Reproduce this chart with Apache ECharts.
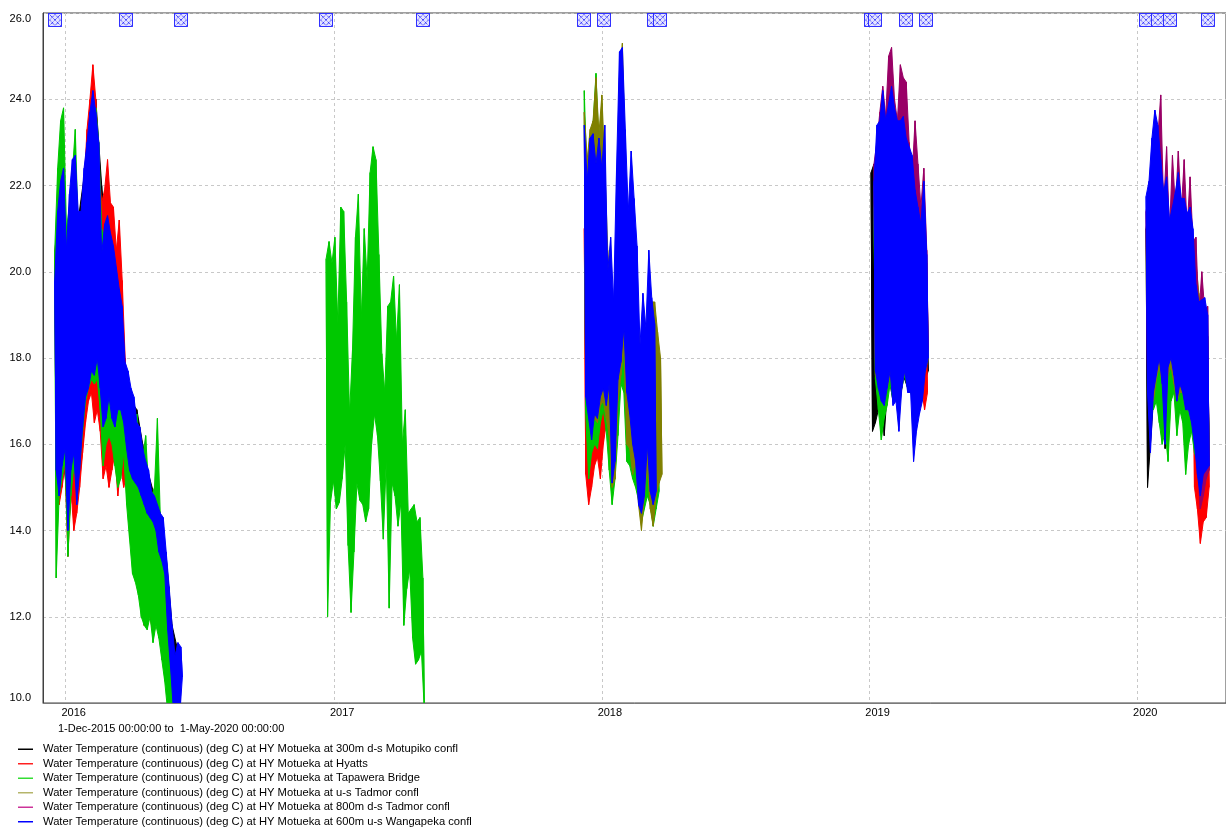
<!DOCTYPE html>
<html><head><meta charset="utf-8">
<script src="https://cdn.jsdelivr.net/npm/echarts@6/dist/echarts.min.js"></script>
<style>html,body{margin:0;padding:0;background:#fff}#c{width:1226px;height:830px}</style>
</head><body><div id="c"></div>
<script>
// ---------- labels ----------
const seriesNames = [
  'Water Temperature (continuous) (deg C) at HY Motueka at 300m d-s Motupiko confl',
  'Water Temperature (continuous) (deg C) at HY Motueka at Hyatts',
  'Water Temperature (continuous) (deg C) at HY Motueka at Tapawera Bridge',
  'Water Temperature (continuous) (deg C) at HY Motueka at u-s Tadmor confl',
  'Water Temperature (continuous) (deg C) at HY Motueka at 800m d-s Tadmor confl',
  'Water Temperature (continuous) (deg C) at HY Motueka at 600m u-s Wangapeka confl'
];
const seriesColors = ['#000000', '#ff0000', '#00c800', '#808000', '#990066', '#0000ff'];
const legendColors = ['#000000', '#ff2020', '#33dd33', '#b5b56a', '#cc3399', '#0000ff'];
const periodText = '1-Dec-2015 00:00:00 to  1-May-2020 00:00:00';
const xStart = '2015-12-01', xEnd = '2020-05-01';
const yMin = 10, yMax = 26, yStep = 2;

// ---------- data: daily-cycle highs / lows, one pair per sampling step ----------
// 300m d-s Motupiko confl (black)
const black2016Hi = [19.5,21.8,20.5,22.3,21.2,22.2,23.5,24.0,22.0,20.5,20.6,19.8,17.5,17.0,16.8,16.0,15.3,14.8,14.4,13.4,11.8,11.2];
const black2016Lo = [15.6,15.6,14.3,15.9,15.5,17.2,17.8,18.0,16.6,16.8,16.9,16.7,16.0,15.3,15.0,14.7,14.4,14.1,13.5,12.0,10.0,9.8];
const black2019Hi = [22.3,22.5,22.0,21.5,21.8,22.0,22.2,21.8,21.5,21.6,21.4,21.0,20.8,20.5,20.3,20.0,19.8,19.8,19.5,19.2];
const black2019Lo = [16.3,16.5,16.8,17.0,16.2,17.2,17.4,17.0,17.2,17.4,17.6,17.5,17.3,17.5,17.6,17.8,17.5,17.2,17.5,17.7];
const black2020Hi = [21.0,21.5,22.0,22.5,22.4,21.8,21.0,21.5,20.8,21.0,21.2,21.4,21.0,21.0,20.8,20.8,20.3,19.2,18.8,18.8,18.9,18.5];
const black2020Lo = [15.0,16.0,17.0,17.4,17.8,17.5,15.9,17.6,17.9,17.6,17.2,17.3,17.2,17.0,17.0,16.7,16.3,15.6,15.1,15.5,15.6,15.7];
// Hyatts (red)
const red2016Hi = [20.5,21.0,21.5,21.8,20.0,21.3,22.0,22.2,21.0,21.0,22.0,23.3,24.0,24.8,24.0,22.5,21.6,21.9,22.6,21.6,21.5,20.5,21.2,19.8,18.0,17.0,16.5,16.2,16.0,15.8,15.5,15.2,15.0,14.8,14.5,14.0,13.5,13.0,12.5,11.8,11.0,11.0,10.8];
const red2016Lo = [14.9,14.6,15.0,15.5,13.4,15.0,14.0,14.4,15.0,15.8,16.5,17.0,17.2,16.5,16.8,16.3,15.2,15.5,15.0,15.4,15.8,14.8,15.5,15.0,15.3,14.5,13.5,13.7,12.8,12.7,11.8,12.2,12.0,11.6,12.2,12.0,11.5,11.0,10.5,10.2,10.0,10.5,10.4];
const red2018Hi = [21.0,20.8,20.5,21.0,20.8,20.6,20.5,19.5];
const red2018Lo = [15.3,14.6,15.0,15.5,15.7,15.2,16.0,16.5];
const red2019Hi = [19.0,19.2,18.8];
const red2019Lo = [17.3,16.8,17.2];
const red2020Hi = [19.0,18.5,18.0,18.0,18.2,18.0];
const red2020Lo = [15.0,14.5,13.7,14.2,14.3,15.0];
// Tapawera Bridge (green)
const green2016Hi = [20.5,22.4,23.5,23.8,21.0,21.5,22.3,23.3,21.0,21.0,22.0,22.5,23.5,23.8,23.8,23.0,21.0,20.8,20.5,20.5,20.2,19.5,19.3,18.8,17.3,17.0,16.6,16.5,16.7,16.0,15.7,16.2,15.0,14.8,15.0,16.6,14.3,13.5,12.2,11.4,10.5];
const green2016Lo = [12.9,14.8,15.2,15.6,13.4,14.8,15.5,15.0,15.5,16.3,17.0,17.3,17.5,17.4,17.5,16.8,15.5,16.0,16.2,16.0,15.5,15.0,15.2,15.8,14.6,13.8,13.0,12.8,12.5,12.0,11.8,11.7,12.0,11.4,11.8,11.5,11.0,10.5,9.8,9.5,9.5];
const green2017Hi = [20.3,20.7,20.2,20.8,18.8,21.5,21.4,19.3,16.7,18.2,20.8,21.8,18.9,21.0,19.8,22.3,22.9,22.6,20.4,18.1,17.2,19.2,19.3,19.9,18.4,19.7,16.0,16.8,14.4,14.5,14.6,14.2,14.3,12.9];
const green2017Lo = [12.0,14.65,15.15,14.5,14.65,15.2,16.0,13.65,12.1,13.5,15.1,14.7,14.6,14.2,14.5,16.0,16.7,16.2,15.15,13.8,15.6,12.2,15.1,14.8,14.1,14.65,11.8,12.65,13.1,11.5,10.9,11.0,11.2,9.8];
const green2018Hi = [24.2,22.0,22.8,23.4,24.6,22.9,23.9,21.8,19.8,19.0,18.8,20.0,20.0,19.8,19.5,19.0,18.5,18.3,18.0,17.5,17.5,17.2,17.6,17.8,16.5,16.2];
const green2018Lo = [16.7,15.2,15.8,16.0,15.9,16.5,16.8,16.3,15.4,14.6,15.2,16.2,17.4,17.2,15.6,15.5,15.2,15.0,14.7,14.2,14.5,14.8,14.6,14.1,14.5,14.9];
const green2019Hi = [21.5,22.0,22.3,22.6,22.4,22.5,22.8,22.4,22.0,22.0,21.8,21.6,21.4,21.0,20.8,20.5,20.2,20.5,19.8];
const green2019Lo = [17.5,16.8,16.1,16.6,16.9,17.4,17.0,17.2,16.9,17.3,17.6,17.3,17.2,17.0,17.1,17.4,17.6,17.8,18.0];
const green2020Hi = [19.5,20.0,20.5,20.8,20.5,20.2,19.8,19.9,20.0,19.8,19.5,19.5,19.2,19.0,18.8,18.5,18.0,17.8,17.6,17.5];
const green2020Lo = [16.8,17.0,16.5,16.0,16.3,15.6,17.0,17.2,16.2,16.8,16.5,15.3,16.0,16.3,15.8,15.6,15.8,15.6,15.2,16.0];
// u-s Tadmor confl (olive)
const olive2018Hi = [23.7,22.6,23.3,23.5,24.5,23.2,24.1,22.5,20.5,19.5,19.0,21.0,24.5,25.3,22.5,21.0,21.5,20.5,19.8,18.0,19.0,18.3,19.5,19.3,19.3,18.6,18.0];
const olive2018Lo = [17.5,16.8,16.4,16.6,16.5,16.9,17.0,16.6,16.2,15.0,15.2,17.0,17.6,18.2,16.0,15.9,15.3,15.6,14.6,14.0,14.8,15.5,14.5,14.1,14.8,15.1,15.3];
const olive2019Hi = [22.0,22.8,23.2,23.6,23.5,23.5,23.8,23.5,23.3,24.5,24.0,23.5,22.8,22.0,21.8,21.5,21.0,21.5,20.2];
const olive2019Lo = [17.6,17.4,17.2,17.0,17.3,17.6,17.2,17.1,16.8,17.3,17.7,17.4,17.3,16.8,17.0,17.3,17.4,17.7,18.0];
const olive2020Hi = [20.5,23.3,22.0,22.5,21.8,21.2,21.0,21.0,20.6,21.2,21.0,21.5,20.8,20.7,20.5,20.2,19.5,18.8,18.6,18.4];
const olive2020Lo = [17.0,17.5,17.8,17.4,16.5,17.6,17.8,17.4,17.0,17.2,17.2,16.8,16.8,16.5,16.2,15.8,15.3,15.0,15.3,15.5];
// 800m d-s Tadmor confl (purple)
const purple2019Hi = [22.5,23.0,23.7,24.3,23.6,25.0,25.2,24.0,23.5,24.8,24.5,24.4,23.0,22.2,23.5,22.5,21.5,22.4,20.5];
const purple2019Lo = [18.0,17.8,17.6,17.5,17.8,18.0,17.6,17.5,17.2,17.6,18.0,17.8,17.7,17.0,17.2,17.5,17.5,17.9,18.2];
const purple2020Hi = [21.4,21.8,22.8,23.4,23.1,24.1,21.5,22.9,20.9,22.7,21.5,22.8,21.4,22.6,21.0,22.2,20.7,20.8,19.0,20.0,19.1,19.2];
const purple2020Lo = [17.5,16.5,17.4,17.8,18.0,17.6,16.8,17.9,18.1,17.8,17.3,17.5,17.4,17.0,17.0,16.8,16.3,15.5,14.5,14.8,15.2,15.4];
// 600m u-s Wangapeka confl (blue)
const blue2016Hi = [19.8,21.4,22.1,22.4,20.5,21.8,22.6,22.7,21.4,21.4,22.4,23.0,23.7,24.2,23.7,23.0,20.4,21.1,21.3,20.9,20.6,20.1,19.6,19.2,17.9,17.7,17.3,17.1,16.5,16.4,15.9,15.6,15.4,14.9,14.8,14.6,14.4,14.3,13.5,12.7,11.8,11.1,11.4,11.3];
const blue2016Lo = [15.4,14.8,15.5,15.9,14.0,15.4,15.8,14.6,15.4,16.4,17.1,17.3,17.7,17.6,18.0,17.3,16.4,16.6,17.1,16.6,16.4,16.8,16.8,16.5,15.9,15.4,15.2,15.1,15.0,14.8,14.6,14.4,14.3,14.2,14.0,13.5,13.3,13.0,11.7,10.8,9.8,9.5,9.6,10.6];
const blue2018Hi = [23.4,22.1,23.1,23.2,22.5,23.1,22.4,23.4,20.0,20.8,19.3,22.4,25.1,25.2,23.3,21.4,22.8,21.7,20.6,18.3,19.5,18.7,20.5,19.4,18.8];
const blue2018Lo = [17.1,16.6,16.1,16.7,16.6,17.1,17.3,16.9,17.4,15.1,15.6,17.5,17.9,18.7,17.2,16.7,16.0,15.6,14.6,14.4,14.8,16.0,14.9,14.6,14.9];
const blue2019Hi = [22.1,23.4,23.5,24.2,23.5,23.9,24.3,23.8,23.5,23.5,23.6,23.1,22.9,22.7,21.9,21.5,21.1,22.1,20.4];
const blue2019Lo = [17.7,17.3,17.0,16.9,17.3,17.7,16.9,17.0,16.3,17.3,17.7,17.2,17.2,15.6,16.3,16.7,17.0,17.7,18.0];
const blue2020Hi = [21.75,22.1,23.1,23.75,23.4,22.6,21.85,22.2,21.2,21.5,21.85,22.3,21.7,21.7,21.35,21.5,21.0,19.7,19.3,19.35,19.4,19.0];
const blue2020Lo = [17.2,15.8,17.2,17.6,18.0,17.4,16.0,17.8,18.0,17.6,17.0,17.4,17.2,16.8,16.8,16.5,16.0,15.3,14.8,15.3,15.4,15.5];
// data gap markers along the top
const gapMarkerDates = ['2015-12-17','2016-03-23','2016-06-06','2016-12-20','2017-05-02','2017-12-07','2018-01-03','2018-03-13','2018-03-20','2019-01-02','2019-01-08','2019-02-19','2019-03-18','2020-01-12','2020-01-28','2020-02-14','2020-04-06'];

// segments: [first sample date, sampling step (days), highs, lows]
const segmentsBySeries = [
  [['2015-12-17', 8, black2016Hi, black2016Lo], ['2019-01-03', 4, black2019Hi, black2019Lo], ['2020-01-13', 4, black2020Hi, black2020Lo]],
  [['2015-12-17', 4, red2016Hi, red2016Lo], ['2017-12-08', 4, red2018Hi, red2018Lo], ['2019-03-11', 4, red2019Hi, red2019Lo], ['2020-03-17', 4, red2020Hi, red2020Lo]],
  [['2015-12-17', 4, green2016Hi, green2016Lo], ['2016-12-21', 4, green2017Hi, green2017Lo], ['2017-12-08', 4, green2018Hi, green2018Lo], ['2019-01-07', 4, green2019Hi, green2019Lo], ['2020-01-21', 4, green2020Hi, green2020Lo]],
  [['2017-12-08', 4, olive2018Hi, olive2018Lo], ['2019-01-07', 4, olive2019Hi, olive2019Lo], ['2020-01-21', 4, olive2020Hi, olive2020Lo]],
  [['2019-01-07', 4, purple2019Hi, purple2019Lo], ['2020-01-13', 4, purple2020Hi, purple2020Lo]],
  [['2015-12-17', 4, blue2016Hi, blue2016Lo], ['2017-12-08', 4, blue2018Hi, blue2018Lo], ['2019-01-07', 4, blue2019Hi, blue2019Lo], ['2020-01-13', 4, blue2020Hi, blue2020Lo]]
];

const DAY = 86400000;
function ts(s) { const p = s.split('-').map(Number); return new Date(p[0], p[1] - 1, p[2]).getTime(); }

const FONT = '"Liberation Sans", Arial, sans-serif';
const chart = echarts.init(document.getElementById('c'), null, { renderer: 'canvas' });

// each series: one filled envelope (highs forward, lows back) per season, plus the daily zig-zag
const bandSeries = seriesNames.map(function (n, si) {
  const segs = segmentsBySeries[si];
  return {
    name: n, type: 'custom', clip: true, animation: false, z: 2 + si,
    itemStyle: { color: seriesColors[si] },
    data: segs.map(function (sg, k) { return [ts(sg[0]), yMin, k]; }),
    encode: { x: 0, y: 1 },
    renderItem: function (params, api) {
      const sg = segs[api.value(2)];
      const t0 = ts(sg[0]), step = sg[1] * DAY, hi = sg[2], lo = sg[3];
      const top = [], bot = [], zig = [];
      hi.forEach(function (h, i) {
        const t = t0 + i * step;
        const a = api.coord([t, h]), b = api.coord([t + step / 2, lo[i]]);
        top.push(a); bot.push(b); zig.push(a, b);
      });
      const pts = top.concat(bot.slice().reverse());
      const c = seriesColors[si];
      return {
        type: 'group', children: [
          { type: 'polygon', shape: { points: pts }, style: { fill: c, stroke: c, lineWidth: 1 } },
          { type: 'polyline', shape: { points: zig }, style: { fill: null, stroke: c, lineWidth: 1 } }
        ]
      };
    }
  };
});

const markerSeries = {
  type: 'custom', name: 'gaps', animation: false, z: 20, clip: false,
  data: gapMarkerDates.map(function (d) { return [ts(d), yMax]; }),
  encode: { x: 0, y: 1 },
  renderItem: function (params, api) {
    const p = api.coord([api.value(0), api.value(1)]);
    const s = 13, x = Math.round(p[0] - s / 2) + 0.5, y = Math.round(p[1]) + 0.5;
    const dash = { stroke: '#0000ff', lineWidth: 1, lineDash: [1, 1] };
    return {
      type: 'group', children: [
        { type: 'rect', shape: { x: x, y: y, width: s, height: s }, style: { fill: '#e4e4ff', stroke: '#3030ff', lineWidth: 1 } },
        { type: 'line', shape: { x1: x, y1: y, x2: x + s, y2: y + s }, style: dash },
        { type: 'line', shape: { x1: x + s, y1: y, x2: x, y2: y + s }, style: dash },
        { type: 'polygon', shape: { points: [[x + s / 2, y + 1], [x + s - 1, y + s / 2], [x + s / 2, y + s - 1], [x + 1, y + s / 2]] }, style: { fill: 'none', stroke: '#0000ff', lineWidth: 1, lineDash: [1, 1] } }
      ]
    };
  }
};

chart.setOption({
  animation: false,
  backgroundColor: '#ffffff',
  textStyle: { fontFamily: FONT },
  grid: { left: 43, top: 13, width: 1186, height: 690, show: true, borderColor: '#404040', borderWidth: 1, backgroundColor: 'transparent' },
  xAxis: {
    type: 'time', min: ts(xStart), max: ts(xEnd),
    minInterval: 365 * DAY, maxInterval: 366 * DAY,
    axisLine: { show: true, lineStyle: { color: '#7a7a7a', width: 1 } },
    axisTick: { show: false },
    splitLine: { show: true, lineStyle: { color: '#c8c8c8', type: [3, 3], width: 1 } },
    axisLabel: {
      show: true, margin: 4, showMinLabel: false, showMaxLabel: false,
      formatter: function (v) { return '{a|' + new Date(v).getFullYear() + '}'; },
      rich: { a: { fontSize: 11, color: '#000', fontFamily: FONT, padding: [0, 0, 0, 16] } },
      color: '#000', fontSize: 11, fontFamily: FONT
    }
  },
  yAxis: {
    type: 'value', min: yMin, max: yMax, interval: yStep,
    axisLine: { show: true, lineStyle: { color: '#404040', width: 1 } },
    axisTick: { show: false },
    splitLine: { show: true, lineStyle: { color: '#c8c8c8', type: [3, 3], width: 1 } },
    axisLabel: {
      margin: 12, color: '#000', fontSize: 11, fontFamily: FONT,
      formatter: function (v) { return v.toFixed(1); },
      verticalAlignMaxLabel: 'top', verticalAlignMinLabel: 'bottom'
    }
  },
  legend: {
    show: true, orient: 'vertical', left: 18, top: 742, itemGap: 0, padding: 0, height: 95,
    itemWidth: 15, itemHeight: 1.5, icon: 'rect', selectedMode: false,
    data: seriesNames.map(function (n, i) { return { name: n, itemStyle: { color: legendColors[i] } }; }),
    textStyle: { fontSize: 11.2, color: '#000', fontFamily: FONT, lineHeight: 14.5, padding: [0, 0, 0, 5] }
  },
  graphic: [{
    type: 'text', left: 58, top: 723,
    style: { text: periodText, font: '11px ' + FONT, fill: '#000' }
  }],
  series: bandSeries.concat([markerSeries])
});
</script></body></html>
